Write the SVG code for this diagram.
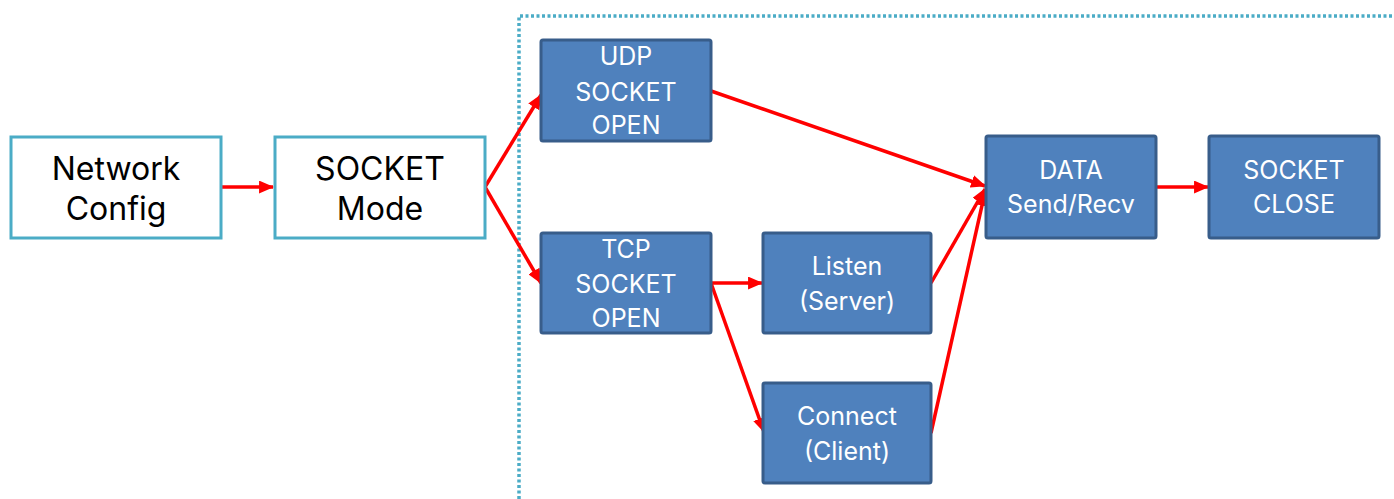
<svg xmlns="http://www.w3.org/2000/svg" width="1394" height="499" viewBox="0 0 1394 499">
  <style>
    .outline { fill: #ffffff; stroke: #4bacc6; stroke-width: 3; }
    .step { fill: #4f81bd; stroke: #385d8a; stroke-width: 3; }
    .dark { font-family: Inter, "Noto Sans", sans-serif; font-size: 32px; fill: #000000; text-anchor: middle; }
    .light { font-family: Inter, "Noto Sans", sans-serif; font-size: 25px; fill: #ffffff; text-anchor: middle; }
    .flow { stroke: #ff0000; stroke-width: 3.5; fill: none; marker-end: url(#arrow); }
    .frame { fill: none; stroke: #4bacc6; stroke-width: 3.5; stroke-dasharray: 3 2.5; }
  </style>
  <defs>
    <marker id="arrow" viewBox="0 0 14 12" refX="13" refY="6" markerWidth="15" markerHeight="13" markerUnits="userSpaceOnUse" orient="auto">
      <path d="M0,0 L14,6 L0,12 Z" fill="#ff0000"/>
    </marker>
  </defs>

  <rect width="1394" height="499" fill="#ffffff"/>

  <!-- dotted frame around the socket stages -->
  <path class="frame" d="M519,499 L519,16 L1400,16"/>

  <!-- connectors -->
  <g id="connectors">
    <line class="flow" x1="221" y1="187" x2="273" y2="187"/>
    <polyline class="flow" points="485,187 541,95"/>
    <polyline class="flow" points="485,187 541,283"/>
    <line class="flow" x1="711" y1="91" x2="985" y2="186"/>
    <line class="flow" x1="711" y1="283" x2="762" y2="283"/>
    <line class="flow" x1="711" y1="283" x2="764" y2="432"/>
    <line class="flow" x1="931" y1="283" x2="985" y2="189"/>
    <line class="flow" x1="931" y1="433" x2="985" y2="192"/>
    <line class="flow" x1="1156" y1="187" x2="1208" y2="187"/>
  </g>

  <g id="network-config">
    <rect class="outline" x="11" y="137" width="210" height="101"/>
    <text class="dark" x="116" y="180">Network</text>
    <text class="dark" x="116" y="220">Config</text>
  </g>

  <g id="socket-mode">
    <rect class="outline" x="275" y="137" width="210" height="101"/>
    <text class="dark" x="380" y="180">SOCKET</text>
    <text class="dark" x="380" y="220">Mode</text>
  </g>

  <g id="udp-open">
    <rect class="step" x="541" y="40" width="170" height="101" rx="2"/>
    <text class="light" x="626" y="65">UDP</text>
    <text class="light" x="626" y="101">SOCKET</text>
    <text class="light" x="626" y="134">OPEN</text>
  </g>

  <g id="tcp-open">
    <rect class="step" x="541" y="233" width="170" height="100" rx="2"/>
    <text class="light" x="626" y="258">TCP</text>
    <text class="light" x="626" y="293">SOCKET</text>
    <text class="light" x="626" y="327">OPEN</text>
  </g>

  <g id="listen">
    <rect class="step" x="763" y="233" width="168" height="100" rx="2"/>
    <text class="light" x="847" y="275">Listen</text>
    <text class="light" x="847" y="310">(Server)</text>
  </g>

  <g id="connect">
    <rect class="step" x="763" y="383" width="168" height="100" rx="2"/>
    <text class="light" x="847" y="425">Connect</text>
    <text class="light" x="847" y="460">(Client)</text>
  </g>

  <g id="data">
    <rect class="step" x="986" y="136" width="170" height="102" rx="2"/>
    <text class="light" x="1071" y="179">DATA</text>
    <text class="light" x="1071" y="213">Send/Recv</text>
  </g>

  <g id="socket-close">
    <rect class="step" x="1209" y="136" width="170" height="102" rx="2"/>
    <text class="light" x="1294" y="179">SOCKET</text>
    <text class="light" x="1294" y="213">CLOSE</text>
  </g>
</svg>
